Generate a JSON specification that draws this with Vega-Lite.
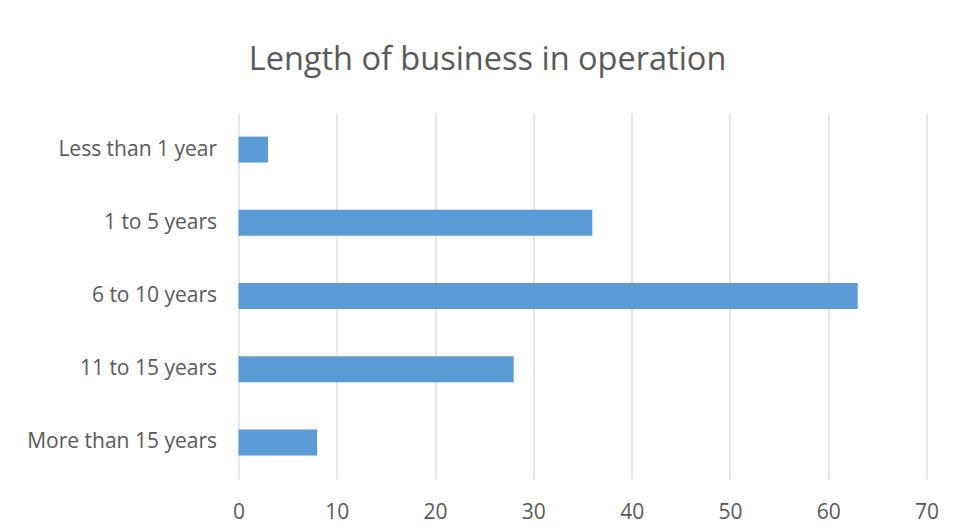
{
  "$schema": "https://vega.github.io/schema/vega-lite/v6.json",
  "autosize": "none",
  "width": 688,
  "height": 366,
  "padding": {"left": 238.5, "top": 113, "right": 32, "bottom": 53},
  "background": "white",
  "title": {
    "text": "Length of business in operation",
    "font": "Open Sans",
    "fontSize": 32.5,
    "fontWeight": 400,
    "color": "#595959",
    "anchor": "middle",
    "dx": -95,
    "offset": 37
  },
  "data": {
    "values": [
      {"category": "Less than 1 year", "value": 3},
      {"category": "1 to 5 years", "value": 36},
      {"category": "6 to 10 years", "value": 63},
      {"category": "11 to 15 years", "value": 28},
      {"category": "More than 15 years", "value": 8}
    ]
  },
  "mark": {"type": "bar", "color": "#5B9BD5"},
  "encoding": {
    "y": {
      "field": "category",
      "type": "nominal",
      "sort": null,
      "scale": {"paddingInner": 0.645, "paddingOuter": 0.3225},
      "axis": {
        "title": null,
        "domain": false,
        "ticks": false,
        "labelFont": "Open Sans",
        "labelFontSize": 21,
        "labelColor": "#595959",
        "labelPadding": 22,
        "labelLimit": 400
      }
    },
    "x": {
      "field": "value",
      "type": "quantitative",
      "scale": {"domain": [0, 70]},
      "axis": {
        "title": null,
        "domain": false,
        "ticks": false,
        "values": [0, 10, 20, 30, 40, 50, 60, 70],
        "labelFlush": false,
        "labelFont": "Open Sans",
        "labelFontSize": 21,
        "labelColor": "#595959",
        "labelPadding": 22,
        "gridColor": "#D9D9D9",
        "gridWidth": 1.3
      }
    }
  },
  "config": {"view": {"stroke": null}}
}
